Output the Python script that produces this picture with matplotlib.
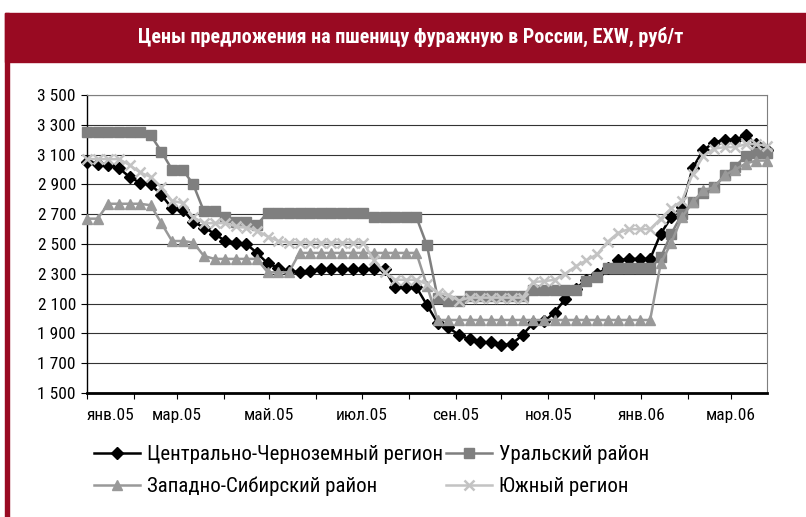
import pandas as pd
import numpy as np
import matplotlib
matplotlib.use("Agg")
import matplotlib.pyplot as plt
from matplotlib.patches import Rectangle
from matplotlib.ticker import FuncFormatter

plt.rcParams['font.family'] = ['Roboto Condensed', 'DejaVu Sans']

title = "Цены предложения на пшеницу фуражную в России, EXW, руб/т"

# weekly observations, Jan 2005 - Mar 2006
weeks = pd.date_range("2005-01-01", periods=65, freq="7D")

central = [3050, 3040, 3030, 3010, 2950, 2910, 2900, 2830, 2740, 2730,
           2650, 2610, 2570, 2520, 2510, 2500, 2440, 2370, 2340, 2320,
           2310, 2320, 2330, 2330, 2330, 2330, 2330, 2330, 2330, 2210,
           2210, 2210, 2090, 1970, 1940, 1890, 1860, 1840, 1840, 1820,
           1830, 1890, 1970, 1980, 2040, 2130, 2200, 2260, 2300, 2340,
           2390, 2400, 2400, 2400, 2570, 2680, 2750, 3010, 3130, 3180,
           3200, 3200, 3230, 3170, 3130]
ural = [3250, 3250, 3250, 3250, 3250, 3250, 3230, 3120, 3000, 3000,
        2900, 2720, 2720, 2680, 2650, 2650, 2630, 2710, 2710, 2710,
        2710, 2710, 2710, 2710, 2710, 2710, 2710, 2680, 2680, 2680,
        2680, 2680, 2490, 2140, 2120, 2120, 2150, 2150, 2150, 2150,
        2150, 2150, 2190, 2190, 2190, 2190, 2190, 2250, 2280, 2340,
        2340, 2340, 2340, 2340, 2410, 2570, 2700, 2780, 2840, 2880,
        2960, 3020, 3090, 3110, 3110]
west_sib = [2670, 2670, 2770, 2770, 2770, 2770, 2760, 2640, 2520, 2520,
            2510, 2420, 2400, 2400, 2400, 2400, 2400, 2310, 2310, 2310,
            2440, 2440, 2440, 2440, 2440, 2440, 2440, 2440, 2440, 2440,
            2440, 2440, 2220, 1990, 1990, 1990, 1990, 1990, 1990, 1990,
            1990, 1990, 1990, 1990, 1990, 1990, 1990, 1990, 1990, 1990,
            1990, 1990, 1990, 1990, 2370, 2510, 2680, 2780, 2860, 2880,
            2960, 3000, 3040, 3060, 3060]
south = [3070, 3070, 3070, 3070, 3030, 2980, 2950, 2880, 2790, 2775,
         2680, 2640, 2640, 2640, 2620, 2610, 2590, 2550, 2520, 2510,
         2510, 2510, 2510, 2510, 2510, 2510, 2510, 2390, 2310, 2260,
         2260, 2260, 2230, 2170, 2160, 2120, 2140, 2140, 2140, 2140,
         2140, 2140, 2245, 2250, 2260, 2300, 2350, 2390, 2430, 2515,
         2575, 2600, 2600, 2600, 2670, 2740, 2790, 2970, 3090, 3140,
         3150, 3150, 3170, 3170, 3160]

series_names = ["Центрально-Черноземный регион", "Уральский район",
                "Западно-Сибирский район", "Южный регион"]
month_labels = ["янв.05", "мар.05", "май.05", "июл.05",
                "сен.05", "ноя.05", "янв.06", "мар.06"]
label_dates = pd.date_range("2005-01-01", periods=8, freq="2MS")
month_starts = pd.date_range("2005-01-01", periods=15, freq="MS")
y_ticks = np.arange(1500, 3501, 200)

W, H = 806, 517
fig = plt.figure(figsize=(W / 100, H / 100), dpi=100)

# red header band and left border
red = "#990a22"
fig.patches.append(Rectangle((5 / W, 1 - 62 / H), 1 - 5 / W, 49 / H,
                             transform=fig.transFigure, color=red, zorder=0))
fig.patches.append(Rectangle((5 / W, 0), 3.5 / W, 1 - 13 / H,
                             transform=fig.transFigure, color=red, zorder=0))
fig.text(0.51, 1 - 37 / H, title, color="white", fontsize=14.5,
         fontweight="bold", ha="center", va="center")

ax = fig.add_axes([87 / W, 1 - 393 / H, 680 / W, 298 / H])

styles = [
    dict(color="black", marker="D", ms=6.2),
    dict(color="#7f7f7f", marker="s", ms=7),
    dict(color="#999999", marker="^", ms=7.5),
    dict(color="#c3c3c3", marker="x", ms=7.5, mew=1.8),
]
handles = []
for vals, name, st in zip([central, ural, west_sib, south], series_names, styles):
    line, = ax.plot(weeks, vals, lw=1.8, color=st["color"], marker=st["marker"],
                    ms=st["ms"], mew=st.get("mew", 1), mfc=st["color"],
                    mec=st["color"], label=name, clip_on=False, zorder=3)
    handles.append(line)

ax.set_ylim(1500, 3500)
ax.set_xlim(weeks[0], weeks[-1])
ax.set_yticks(y_ticks)
ax.yaxis.set_major_formatter(FuncFormatter(lambda v, p: f"{int(v):,}".replace(",", " ")))
ax.yaxis.grid(True, color="#333333", lw=0.8)
ax.set_axisbelow(True)

ax.set_xticks(label_dates)
ax.set_xticklabels(month_labels)
ax.set_xticks(month_starts, minor=True)
ax.get_xticklabels()[0].set_horizontalalignment("left")

ax.tick_params(axis="both", which="both", direction="out", length=4,
               width=0.8, color="black", labelsize=12.5, pad=4)
ax.tick_params(axis="x", pad=7)

for side in ["top", "right"]:
    ax.spines[side].set_color("#7f7f7f")
    ax.spines[side].set_linewidth(0.8)
ax.spines["left"].set_linewidth(1)
ax.spines["bottom"].set_linewidth(2)

order = [0, 2, 1, 3]
fig.legend([handles[i] for i in order], [series_names[i] for i in order],
           ncol=2, loc="upper left", bbox_to_anchor=(94 / W, 1 - 445 / H),
           frameon=False, fontsize=15, handlelength=2.2, handletextpad=0.33,
           columnspacing=0.15, labelspacing=0.62, borderaxespad=0, borderpad=0)

fig.savefig("out.png", dpi=100)
